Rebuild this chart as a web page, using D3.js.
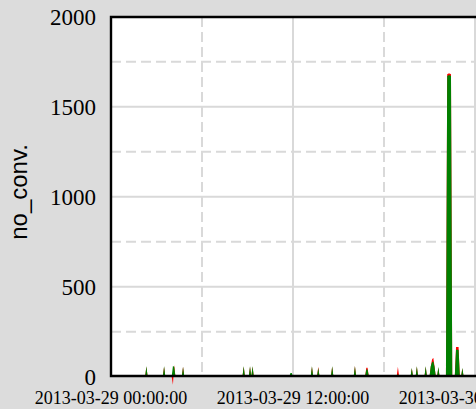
<!DOCTYPE html>
<html>
<head>
<meta charset="utf-8">
<script src="https://cdn.jsdelivr.net/npm/d3@7"></script>
<style>
  body { margin: 0; background: #dcdcdc; }
  svg { display: block; }
</style>
</head>
<body>
<div id="chart"></div>
<script>
// 5-minute samples on 2013-03-29, only the non-zero ones are listed
var greenTimes = ["02:20","03:30","04:05","04:10","04:45","08:45","09:10","09:20","11:50","11:55",
                  "13:15","13:40","14:35","16:05","16:50","16:55","18:55","19:50","20:10","20:45",
                  "21:05","21:10","21:15","21:20","21:35","22:10","22:15","22:20","22:25",
                  "22:45","22:50","22:55","23:10"];
var greenValues = [60,60,60,55,55,60,60,60,20,20,
                   60,50,60,60,40,40,15,50,60,60,
                   60,80,85,55,55,1670,1675,1675,1670,
                   150,150,150,50];

var redTimes = ["02:20","03:30","04:05","04:10","04:45","08:45","09:10","09:20",
                "13:15","13:40","14:35","16:05","16:50","16:55","18:55","19:50","20:10","20:45",
                "21:05","21:10","21:15","21:20","21:35","22:10","22:15","22:20","22:25",
                "22:45","22:50","22:55","23:10"];
var redValues = [55,55,-45,65,55,55,55,55,
                 55,55,55,60,50,50,55,45,55,55,
                 55,95,105,55,50,1680,1685,1685,1680,
                 165,165,165,45];

var yTicks = [0, 500, 1000, 1500, 2000];
var yMinor = [250, 750, 1250, 1750];
var xTickLabels = ["2013-03-29 00:00:00", "2013-03-29 12:00:00", "2013-03-30 00:00:00"];
var xMinorHours = [6, 18];

var W = 476, H = 409;
var margin = {top: 17, left: 111, bottom: 376};
var dayStart = new Date(2013, 2, 29, 0, 0);
var dayEnd = new Date(2013, 2, 30, 0, 0);

var svg = d3.select("#chart").append("svg")
    .attr("width", W)
    .attr("height", H);

var x = d3.scaleTime().domain([dayStart, dayEnd]).range([margin.left, 475]);
var y = d3.scaleLinear().domain([0, 2000]).range([margin.bottom + 0.7, margin.top - 0.3]);

function parseT(s) {
    var p = s.split(":");
    return new Date(2013, 2, 29, +p[0], +p[1]);
}

// expand the sparse lists into a regular 5-minute series
function buildSeries(times, values) {
    var lookup = {};
    times.forEach(function(t, i) { lookup[+parseT(t)] = values[i]; });
    var out = [];
    var end = new Date(2013, 2, 30, 2, 0);
    for (var t = new Date(dayStart); t <= end; t = new Date(+t + 5 * 60000)) {
        out.push({t: t, v: lookup[+t] || 0});
    }
    return out;
}

var green = buildSeries(greenTimes, greenValues);
var red = buildSeries(redTimes, redValues);

// plot background
svg.append("rect")
    .attr("x", margin.left).attr("y", margin.top)
    .attr("width", 500).attr("height", margin.bottom - margin.top)
    .attr("fill", "white");

var grid = svg.append("g").attr("stroke", "#d9d9d9").attr("stroke-width", 2);

grid.selectAll(".hmaj").data(yTicks.filter(function(d) { return d > 0 && d < 2000; }))
    .enter().append("line")
    .attr("x1", margin.left).attr("x2", W)
    .attr("y1", function(d) { return y(d); }).attr("y2", function(d) { return y(d); });

grid.selectAll(".hmin").data(yMinor)
    .enter().append("line")
    .attr("x1", margin.left).attr("x2", W)
    .attr("y1", function(d) { return y(d); }).attr("y2", function(d) { return y(d); })
    .attr("stroke-dasharray", "10,5");

var majorDates = [new Date(2013, 2, 29, 12), dayEnd];
grid.selectAll(".vmaj").data(majorDates)
    .enter().append("line")
    .attr("y1", margin.top).attr("y2", margin.bottom)
    .attr("x1", function(d) { return x(d); }).attr("x2", function(d) { return x(d); });

grid.selectAll(".vmin").data(xMinorHours)
    .enter().append("line")
    .attr("y1", margin.top).attr("y2", margin.bottom)
    .attr("x1", function(d) { return x(new Date(2013, 2, 29, d)); })
    .attr("x2", function(d) { return x(new Date(2013, 2, 29, d)); })
    .attr("stroke-dasharray", "10,5");

var area = d3.area()
    .x(function(d) { return x(d.t); })
    .y0(y(0))
    .y1(function(d) { return y(d.v); });

svg.append("path").datum(red).attr("d", area).attr("fill", "#ff0000");
svg.append("path").datum(green).attr("d", area).attr("fill", "#008000");

// frame
svg.append("path")
    .attr("d", "M" + W + "," + margin.top + "H" + margin.left + "V" + margin.bottom + "H" + W)
    .attr("fill", "none")
    .attr("stroke", "black")
    .attr("stroke-width", 2.4);

// y tick labels
svg.selectAll(".ylab").data(yTicks)
    .enter().append("text")
    .attr("x", 96)
    .attr("y", function(d) { return y(d); })
    .attr("dy", "0.35em")
    .attr("text-anchor", "end")
    .attr("font-family", "Liberation Serif, serif")
    .attr("font-size", 23)
    .attr("fill", "#000")
    .text(function(d) { return d; });

// x tick labels
var xLabDates = [dayStart, new Date(2013, 2, 29, 12), dayEnd];
svg.selectAll(".xlab").data(xTickLabels)
    .enter().append("text")
    .attr("x", function(d, i) { return x(xLabDates[i]); })
    .attr("y", 404)
    .attr("text-anchor", "middle")
    .attr("font-family", "Liberation Serif, serif")
    .attr("font-size", 18)
    .attr("fill", "#000")
    .text(function(d) { return d; });

svg.append("text")
    .attr("transform", "translate(27,192) rotate(-90)")
    .attr("text-anchor", "middle")
    .attr("font-family", "Liberation Sans, Arial, sans-serif")
    .attr("font-size", 24)
    .attr("fill", "#000")
    .text("no_conv.");
</script>
</body>
</html>
